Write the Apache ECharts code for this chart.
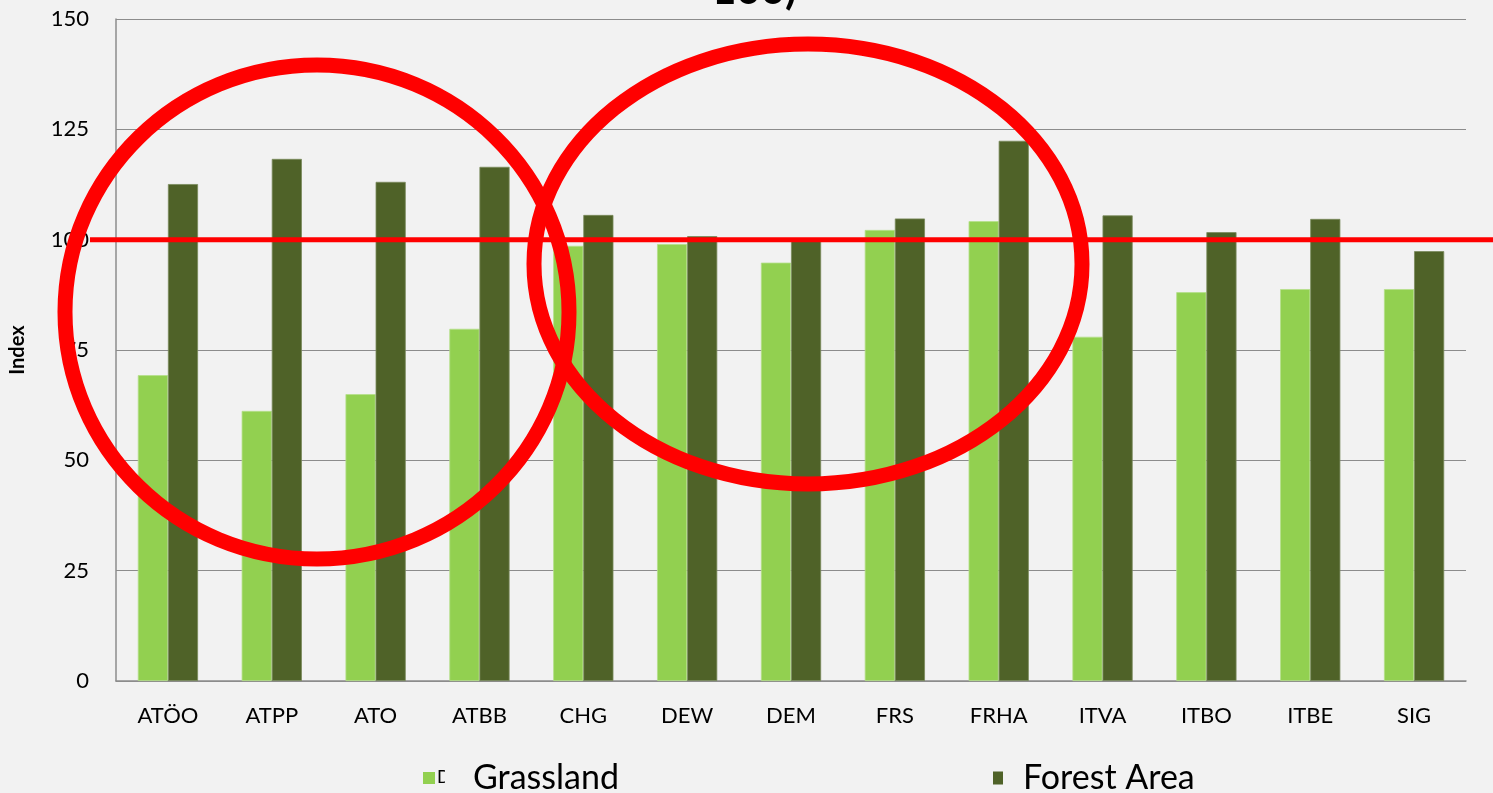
<!DOCTYPE html>
<html>
<head>
<meta charset="utf-8">
<script src="https://cdn.jsdelivr.net/npm/echarts@6/dist/echarts.min.js"></script>
<style>
html,body{margin:0;padding:0;background:#f2f2f2;}
#c{width:1493px;height:793px;}
</style>
</head>
<body>
<div id="c"></div>
<script>
var categories = ['ATÖO','ATPP','ATO','ATBB','CHG','DEW','DEM','FRS','FRHA','ITVA','ITBO','ITBE','SIG'];
var grassland = [69.3, 61.2, 65.0, 79.8, 98.6, 99.0, 94.8, 102.2, 104.2, 78.0, 88.1, 88.8, 88.8];
var forestArea = [112.6, 118.3, 113.1, 116.5, 105.6, 100.8, 100.3, 104.8, 122.4, 105.5, 101.7, 104.7, 97.4];
var yTicks = [0, 25, 50, 75, 100, 125, 150];
var referenceValue = 100;

var FONT = 'Lato, "Open Sans", sans-serif';
var chart = echarts.init(document.getElementById('c'));
chart.setOption({
  backgroundColor: '#f2f2f2',
  animation: false,
  grid: {left: 112, right: 27, top: 19, bottom: 112, containLabel: false},
  legend: [
    {data: ['Grassland'], left: 418, top: 756, itemWidth: 12, itemHeight: 12, icon: 'rect',
     itemStyle: {borderWidth: 0},
     textStyle: {fontSize: 34, color: '#000', fontFamily: FONT, padding: [0, 0, 0, 33]}},
    {data: ['Forest Area'], left: 988, top: 756, itemWidth: 10, itemHeight: 13, icon: 'rect',
     itemStyle: {borderWidth: 0},
     textStyle: {fontSize: 34, color: '#000', fontFamily: FONT, padding: [0, 0, 0, 15]}}
  ],
  xAxis: {
    type: 'category', data: categories,
    axisLine: {lineStyle: {color: '#8c8c8c', width: 1.5}},
    axisTick: {show: false},
    axisLabel: {color: '#000', fontSize: 22, fontFamily: FONT, margin: 24}
  },
  yAxis: {
    type: 'value', min: yTicks[0], max: yTicks[yTicks.length - 1], interval: 25,
    name: 'Index', nameLocation: 'middle', nameGap: 88, nameRotate: 90,
    nameTextStyle: {fontWeight: 'bold', fontSize: 20, color: '#000', fontFamily: FONT},
    axisLine: {show: true, lineStyle: {color: '#8c8c8c', width: 1.5}},
    axisTick: {show: false},
    axisLabel: {color: '#000', fontSize: 22, fontFamily: FONT, margin: 27},
    splitLine: {lineStyle: {color: '#8c8c8c', width: 1.2}}
  },
  series: [
    {name: 'Grassland', type: 'bar', data: grassland, barGap: '0%', barCategoryGap: '42%',
     itemStyle: {color: '#92d050', borderColor: '#b5e08a', borderWidth: 0.8}},
    {name: 'Forest Area', type: 'bar', data: forestArea,
     itemStyle: {color: '#4f6228', borderColor: '#7a8a5c', borderWidth: 0.8}}
  ]
});

var yRef = chart.convertToPixel({yAxisIndex: 0}, referenceValue);
chart.setOption({
  graphic: [
    {type: 'text', left: 712, top: -31, z: 100,
     style: {text: '100)', font: 'bold 42px ' + FONT, fill: '#000'}},
    {type: 'text', x: 437, y: 777, z: 100,
     style: {text: 'D', font: '18px ' + FONT, fill: '#000', verticalAlign: 'middle'}},
    {type: 'rect', x: 445, y: 768, z: 100, shape: {width: 10, height: 20},
     style: {fill: '#f2f2f2'}},
    {type: 'line', z: 100, shape: {x1: 90, y1: yRef, x2: 1493, y2: yRef},
     style: {stroke: '#ff0000', lineWidth: 5}},
    {type: 'ellipse', z: 101, shape: {cx: 317, cy: 312, rx: 252, ry: 247},
     style: {stroke: '#ff0000', lineWidth: 15, fill: null}},
    {type: 'ellipse', z: 101, shape: {cx: 808, cy: 264, rx: 274, ry: 220},
     style: {stroke: '#ff0000', lineWidth: 15, fill: null}}
  ]
});
</script>
</body>
</html>
